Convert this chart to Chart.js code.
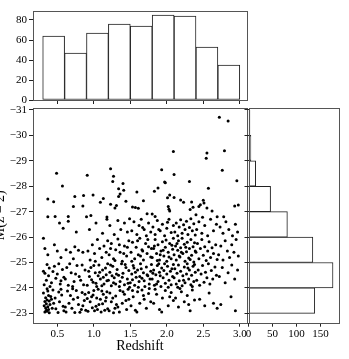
<!DOCTYPE html>
<html lang="en">
<head>
    <meta charset="UTF-8">
    <title>Redshift vs M(z = 2)</title>
    <script src="https://cdn.jsdelivr.net/npm/chart.js"></script>
    <style>
        body { margin: 0; background: #fff; overflow: hidden; }
        canvas { position: absolute; top: 0; }
    </style>
</head>
<body>

<canvas id="top" width="349" height="359" style="left:0"></canvas>
<canvas id="main" width="357" height="359" style="left:-8px"></canvas>
<canvas id="side" width="349" height="359" style="left:0"></canvas>

<script>
    // histogram of redshift (bins of 0.3 from 0.3 to 3.0)
    const zBinCenters = [0.45, 0.75, 1.05, 1.35, 1.65, 1.95, 2.25, 2.55, 2.85];
    const zCounts = [64, 47, 67, 76, 74, 85, 84, 53, 35];

    // histogram of M(z=2) (bins of 1 mag)
    const magBinCenters = [-23.5, -24.5, -25.5, -26.5, -27.5, -28.5, -29.5, -30.5];
    const magCounts = [138, 176, 134, 81, 46, 15, 5, 3];

    const zTicks = [0.5, 1.0, 1.5, 2.0, 2.5, 3.0];
    const magTicks = [-31, -30, -29, -28, -27, -26, -25, -24, -23];
    const topCountTicks = [0, 20, 40, 60, 80];
    const sideCountTicks = [0, 50, 100, 150];

    // [redshift, M(z=2)]
    const quasars = [
        // bright, sparse part
        [0.49,-28.51],[0.91,-28.43],[1.23,-28.69],[1.27,-28.39],[1.26,-28.19],[1.40,-28.11],[0.57,-28.01],[1.34,-27.90],
        [1.41,-27.84],[1.59,-27.77],[1.36,-27.69],[1.34,-27.60],[0.37,-27.50],[0.45,-27.39],[0.74,-27.60],[0.86,-27.64],
        [0.99,-27.65],[1.13,-27.52],[1.09,-27.37],[1.44,-27.41],[0.72,-27.20],[0.85,-27.22],[1.23,-27.29],[1.31,-27.24],
        [1.29,-27.14],[1.53,-27.18],[1.57,-27.16],[1.61,-27.13],[0.37,-26.80],[0.47,-26.81],[0.65,-26.81],[0.90,-26.80],
        [0.96,-26.85],[1.18,-26.79],
        [2.72,-30.71],[2.84,-30.57],[2.09,-29.37],[2.55,-29.31],[2.54,-29.10],[2.79,-29.40],[1.93,-28.65],[2.10,-28.46],
        [2.76,-28.63],[2.31,-28.19],[2.96,-28.22],[2.57,-27.92],[1.97,-28.17],[1.98,-28.14],[1.88,-27.93],[1.83,-27.80],
        [1.68,-27.43],[2.01,-27.55],[2.04,-27.65],[2.10,-27.56],[2.19,-27.46],[2.23,-27.37],[2.34,-27.38],[2.50,-27.45],
        [2.51,-27.34],[2.46,-27.27],[2.44,-27.20],[2.36,-27.17],[2.32,-27.08],[2.55,-27.14],[2.62,-27.03],[2.93,-27.22],
        [2.98,-27.26],[2.02,-27.20],[2.03,-27.09],[2.04,-27.03],[1.73,-26.92],[1.80,-26.91],[1.84,-26.81],[2.40,-26.88],
        [2.49,-26.78],[2.69,-26.80],[2.78,-26.80],
        // 0.3 - 0.6
        [0.33,-23.05],[0.35,-23.12],[0.34,-23.21],[0.36,-23.08],[0.38,-23.15],[0.32,-23.30],[0.37,-23.26],[0.35,-23.38],
        [0.39,-23.02],[0.33,-23.46],[0.36,-23.52],[0.40,-23.35],[0.34,-23.61],[0.38,-23.70],[0.42,-23.55],[0.45,-23.40],
        [0.31,-23.80],[0.37,-23.88],[0.41,-23.66],[0.44,-23.92],[0.48,-23.18],[0.51,-23.03],[0.53,-23.45],[0.56,-23.72],
        [0.58,-23.28],[0.47,-23.60],[0.55,-23.95],[0.59,-23.10],[0.43,-23.20],[0.39,-23.48],[0.36,-23.97],[0.52,-23.84],
        [0.32,-24.12],[0.35,-24.30],[0.31,-24.65],[0.38,-24.48],[0.42,-24.20],[0.46,-24.85],[0.50,-24.55],[0.54,-24.15],
        [0.57,-24.72],[0.36,-24.92],[0.40,-24.05],[0.48,-24.38],[0.52,-24.95],[0.59,-24.42],[0.33,-24.58],[0.44,-24.64],
        [0.55,-24.28],[0.39,-24.78],
        [0.31,-25.95],[0.33,-25.55],[0.37,-25.30],[0.50,-25.45],[0.55,-25.20],[0.46,-25.70],[0.58,-26.35],[0.53,-26.55],
        // 0.6 - 0.9
        [0.62,-23.05],[0.66,-23.40],[0.70,-23.20],[0.74,-23.03],[0.78,-23.62],[0.81,-23.04],[0.85,-23.30],[0.88,-23.75],
        [0.64,-23.88],[0.72,-23.55],[0.76,-23.90],[0.83,-23.15],[0.87,-23.50],[0.68,-23.70],[0.61,-23.25],[0.79,-23.35],
        [0.84,-23.82],[0.71,-23.97],[0.89,-23.12],
        [0.61,-24.35],[0.65,-24.10],[0.69,-24.60],[0.73,-24.25],[0.77,-24.88],[0.80,-24.45],[0.86,-24.12],[0.63,-24.80],
        [0.75,-24.55],[0.82,-24.30],[0.88,-24.70],[0.67,-24.95],[0.71,-24.05],[0.84,-24.90],
        [0.62,-25.50],[0.68,-25.40],[0.74,-25.62],[0.79,-25.48],[0.85,-25.40],[0.72,-25.15],[0.65,-26.62],[0.76,-26.20],
        // 0.9 - 1.2
        [0.92,-23.08],[0.95,-23.45],[0.98,-23.22],[1.01,-23.10],[1.04,-23.60],[1.07,-23.35],[1.10,-23.05],[1.13,-23.75],
        [1.16,-23.48],[1.19,-23.18],[0.93,-23.82],[0.97,-23.65],[1.00,-23.90],[1.03,-23.28],[1.06,-23.95],[1.09,-23.55],
        [1.12,-23.38],[1.15,-23.12],[1.18,-23.85],[0.91,-23.58],[0.99,-23.72],[1.05,-23.15],[1.11,-23.88],[1.17,-23.62],
        [0.91,-24.10],[0.94,-24.45],[0.96,-24.80],[0.99,-24.22],[1.02,-24.60],[1.04,-24.05],[1.07,-24.90],[1.09,-24.35],
        [1.12,-24.70],[1.14,-24.15],[1.17,-24.52],[1.19,-24.95],[0.93,-24.65],[0.97,-24.32],[1.00,-24.88],[1.03,-24.18],
        [1.06,-24.48],[1.08,-24.62],[1.11,-24.08],[1.13,-24.42],[1.16,-24.78],[1.18,-24.28],
        [0.92,-25.45],[0.95,-25.10],[0.98,-25.70],[1.01,-25.35],[1.05,-25.90],[1.08,-25.55],[1.11,-25.20],[1.14,-25.65],
        [1.17,-25.40],[1.02,-25.05],[1.19,-25.85],
        [0.94,-26.30],[1.03,-26.55],[1.12,-26.15],[1.18,-26.70],
        // 1.2 - 1.5
        [1.21,-23.10],[1.24,-23.45],[1.27,-23.02],[1.30,-23.68],[1.33,-23.25],[1.36,-23.90],[1.39,-23.40],[1.42,-23.75],
        [1.45,-23.15],[1.48,-23.55],[1.22,-23.80],[1.26,-23.60],[1.31,-23.35],[1.35,-23.05],[1.40,-23.85],[1.44,-23.50],
        [1.47,-23.95],[1.29,-23.20],
        [1.20,-24.30],[1.22,-24.62],[1.24,-24.08],[1.26,-24.85],[1.28,-24.40],[1.30,-24.15],[1.32,-24.72],[1.34,-24.50],
        [1.36,-24.25],[1.38,-24.95],[1.40,-24.58],[1.42,-24.12],[1.44,-24.80],[1.46,-24.35],[1.48,-24.68],[1.49,-24.02],
        [1.23,-24.90],[1.27,-24.20],[1.31,-24.55],[1.35,-24.05],[1.39,-24.42],[1.43,-24.92],[1.47,-24.18],[1.25,-24.48],
        [1.21,-25.30],[1.24,-25.75],[1.27,-25.15],[1.30,-25.50],[1.33,-25.92],[1.36,-25.40],[1.39,-25.05],[1.42,-25.65],
        [1.45,-25.25],[1.48,-25.85],[1.23,-25.55],[1.29,-25.08],[1.35,-25.70],[1.41,-25.35],[1.46,-25.60],
        [1.22,-26.45],[1.28,-26.10],[1.33,-26.65],[1.37,-26.30],[1.42,-26.55],[1.46,-26.20],[1.49,-26.72],
        // 1.5 - 1.8
        [1.51,-23.30],[1.54,-23.65],[1.57,-23.12],[1.60,-23.85],[1.63,-23.40],[1.66,-23.92],[1.69,-23.55],[1.72,-23.20],
        [1.75,-23.78],[1.78,-23.45],[1.53,-23.90],[1.59,-23.05],[1.68,-23.70],[1.76,-23.98],
        [1.50,-24.20],[1.52,-24.55],[1.54,-24.88],[1.56,-24.10],[1.58,-24.42],[1.60,-24.70],[1.62,-24.25],[1.64,-24.95],
        [1.66,-24.38],[1.68,-24.60],[1.70,-24.05],[1.72,-24.82],[1.74,-24.48],[1.76,-24.15],[1.78,-24.65],[1.79,-24.92],
        [1.53,-24.32],[1.57,-24.62],[1.61,-24.02],[1.65,-24.75],[1.69,-24.28],[1.73,-24.52],[1.77,-24.35],[1.55,-24.78],
        [1.63,-24.45],
        [1.51,-25.40],[1.53,-25.80],[1.56,-25.15],[1.58,-25.60],[1.61,-25.30],[1.63,-25.95],[1.66,-25.50],[1.68,-25.10],
        [1.71,-25.75],[1.73,-25.35],[1.75,-25.62],[1.78,-25.22],[1.52,-25.05],[1.60,-25.85],[1.67,-25.45],[1.74,-25.90],
        [1.79,-25.55],[1.64,-25.25],
        [1.52,-26.25],[1.55,-26.60],[1.59,-26.10],[1.62,-26.45],[1.65,-26.70],[1.69,-26.30],[1.72,-26.05],[1.75,-26.55],
        [1.78,-26.20],[1.67,-26.38],
        // 1.8 - 2.1
        [1.82,-23.40],[1.86,-23.75],[1.90,-23.15],[1.94,-23.60],[1.98,-23.90],[2.02,-23.30],[2.06,-23.82],[2.09,-23.50],
        [1.84,-23.95],[1.93,-23.05],[2.04,-23.65],
        [1.80,-24.35],[1.82,-24.70],[1.83,-24.10],[1.85,-24.52],[1.87,-24.88],[1.88,-24.25],[1.90,-24.62],[1.92,-24.05],
        [1.93,-24.78],[1.95,-24.40],[1.97,-24.95],[1.98,-24.18],[2.00,-24.55],[2.01,-24.85],[2.03,-24.30],[2.05,-24.65],
        [2.06,-24.12],[2.08,-24.45],[2.09,-24.92],[1.81,-24.58],[1.86,-24.15],[1.91,-24.48],[1.96,-24.68],[2.02,-24.02],
        [2.07,-24.75],[1.89,-24.95],
        [1.80,-25.20],[1.82,-25.55],[1.84,-25.90],[1.86,-25.35],[1.88,-25.70],[1.90,-25.10],[1.92,-25.45],[1.94,-25.82],
        [1.96,-25.25],[1.98,-25.60],[2.00,-25.05],[2.02,-25.40],[2.04,-25.75],[2.06,-25.15],[2.08,-25.52],[2.09,-25.95],
        [1.83,-25.65],[1.87,-25.08],[1.91,-25.30],[1.95,-25.48],[1.99,-25.88],[2.03,-25.22],[2.07,-25.68],
        [1.81,-26.40],[1.84,-26.10],[1.87,-26.65],[1.91,-26.25],[1.94,-26.50],[1.97,-26.05],[2.00,-26.35],[2.03,-26.70],
        [2.06,-26.18],[2.09,-26.45],[1.89,-26.30],[2.01,-26.58],
        // 2.1 - 2.4
        [2.12,-23.60],[2.16,-23.25],[2.20,-23.85],[2.24,-23.45],[2.28,-23.70],[2.32,-23.10],[2.35,-23.92],[2.38,-23.52],
        [2.18,-23.98],[2.30,-23.35],
        [2.10,-24.40],[2.11,-24.75],[2.13,-24.15],[2.14,-24.58],[2.16,-24.90],[2.17,-24.28],[2.19,-24.65],[2.21,-24.08],
        [2.22,-24.48],[2.24,-24.82],[2.25,-24.20],[2.27,-24.55],[2.28,-24.95],[2.30,-24.35],[2.31,-24.70],[2.33,-24.12],
        [2.34,-24.50],[2.36,-24.85],[2.37,-24.25],[2.39,-24.62],[2.15,-24.02],[2.23,-24.30],[2.29,-24.78],[2.35,-24.05],
        [2.38,-24.92],
        [2.10,-25.30],[2.12,-25.65],[2.13,-25.10],[2.15,-25.48],[2.16,-25.85],[2.18,-25.22],[2.19,-25.58],[2.21,-25.95],
        [2.22,-25.35],[2.24,-25.72],[2.25,-25.05],[2.27,-25.42],[2.28,-25.80],[2.30,-25.18],[2.31,-25.55],[2.33,-25.90],
        [2.34,-25.28],[2.36,-25.62],[2.37,-25.02],[2.39,-25.45],[2.14,-25.75],[2.20,-25.40],[2.26,-25.60],[2.32,-25.12],
        [2.38,-25.78],[2.17,-25.25],
        [2.11,-26.20],[2.13,-26.55],[2.15,-26.05],[2.17,-26.40],[2.19,-26.68],[2.21,-26.15],[2.23,-26.48],[2.25,-26.30],
        [2.27,-26.62],[2.29,-26.10],[2.31,-26.38],[2.33,-26.72],[2.35,-26.25],[2.37,-26.52],[2.39,-26.08],
        // 2.4 - 2.7
        [2.45,-23.55],[2.52,-23.30],[2.58,-23.80],[2.64,-23.40],[2.69,-23.20],
        [2.41,-24.30],[2.43,-24.70],[2.45,-24.10],[2.47,-24.55],[2.49,-24.88],[2.51,-24.22],[2.53,-24.62],[2.55,-24.40],
        [2.57,-24.95],[2.59,-24.15],[2.61,-24.68],[2.63,-24.35],[2.66,-24.82],[2.68,-24.50],
        [2.40,-25.40],[2.42,-25.75],[2.44,-25.15],[2.46,-25.55],[2.48,-25.90],[2.50,-25.28],[2.52,-25.62],[2.54,-25.08],
        [2.56,-25.45],[2.58,-25.82],[2.60,-25.20],[2.62,-25.58],[2.64,-25.35],[2.67,-25.70],[2.69,-25.12],
        [2.41,-26.30],[2.44,-26.60],[2.48,-26.15],[2.52,-26.45],[2.56,-26.05],[2.60,-26.70],[2.64,-26.25],[2.68,-26.50],
        // 2.7 - 3.0
        [2.74,-23.35],[2.88,-23.65],[2.94,-23.10],
        [2.72,-24.45],[2.76,-24.80],[2.80,-24.20],[2.84,-24.60],[2.89,-24.90],[2.93,-24.35],[2.97,-24.70],
        [2.71,-25.30],[2.74,-25.65],[2.77,-25.10],[2.80,-25.85],[2.83,-25.45],[2.86,-25.20],[2.89,-25.70],[2.92,-25.40],
        [2.95,-25.90],[2.98,-25.25],
        [2.73,-26.40],[2.77,-26.15],[2.81,-26.60],[2.85,-26.30],[2.90,-26.05],[2.94,-26.50],[2.97,-26.20]
    ];

    Chart.defaults.font.family = "'Liberation Serif', 'DejaVu Serif', serif";
    Chart.defaults.font.size = 11;
    Chart.defaults.color = '#000';

    const INK = '#222';
    const minus = v => (v < 0 ? '\u2212' + Math.abs(v) : String(v));
    const setTicks = list => axis => { axis.ticks = list.map(v => ({ value: v })); };

    // matplotlib style box round the plot area
    const frame = {
        id: 'frame',
        afterDraw(chart) {
            const { ctx, chartArea: a } = chart;
            ctx.save();
            ctx.strokeStyle = '#555';
            ctx.lineWidth = 1;
            ctx.strokeRect(Math.round(a.left) + 0.5, Math.round(a.top) + 0.5,
                Math.round(a.right - a.left), Math.round(a.bottom - a.top));
            ctx.restore();
        }
    };

    const tickGrid = { drawOnChartArea: false, drawTicks: true, tickLength: 4, tickColor: INK, offset: false };
    const noBorder = { display: false };
    const base = {
        responsive: false,
        animation: false,
        devicePixelRatio: 1,
        plugins: { legend: { display: false }, tooltip: { enabled: false } }
    };

    // top: redshift histogram
    new Chart(document.getElementById('top'), {
        type: 'bar',
        data: {
            datasets: [{
                data: zBinCenters.map((z, i) => ({ x: z, y: zCounts[i] })),
                backgroundColor: '#fff',
                borderColor: INK,
                borderWidth: 1,
                borderSkipped: false,
                barPercentage: 1,
                categoryPercentage: 1
            }]
        },
        options: {
            ...base,
            layout: { padding: { left: 0, top: 10.7, right: 102, bottom: 255 } },
            scales: {
                x: {
                    type: 'linear', min: 0.167, max: 3.099, offset: false,
                    afterBuildTicks: setTicks(zTicks),
                    afterFit: s => { s.height = 4; },
                    grid: tickGrid, border: noBorder,
                    ticks: { display: false }
                },
                y: {
                    min: 0, max: 89.3,
                    afterBuildTicks: setTicks(topCountTicks),
                    afterFit: s => { s.width = 33; },
                    grid: tickGrid, border: noBorder,
                    ticks: { padding: 2 }
                }
            }
        },
        plugins: [frame]
    });

    // main scatter
    new Chart(document.getElementById('main'), {
        type: 'scatter',
        data: {
            datasets: [{
                data: quasars.map(([z, m]) => ({ x: z, y: m })),
                pointRadius: 1.5,
                pointBorderWidth: 0,
                backgroundColor: '#000'
            }]
        },
        options: {
            ...base,
            layout: { padding: { left: 0, top: 107.7, right: 102, bottom: 4.6 } },
            scales: {
                x: {
                    type: 'linear', min: 0.167, max: 3.099,
                    afterBuildTicks: setTicks(zTicks),
                    afterFit: s => { s.height = 31.7; },
                    grid: tickGrid, border: noBorder,
                    ticks: { padding: 1, maxRotation: 0, autoSkip: false, callback: v => v.toFixed(1) },
                    title: { display: true, text: 'Redshift', font: { size: 14 }, padding: 0 }
                },
                y: {
                    type: 'linear', min: -31.09, max: -22.63, reverse: true,
                    afterBuildTicks: setTicks(magTicks),
                    afterFit: s => { s.width = 41; },
                    grid: tickGrid, border: noBorder,
                    ticks: { padding: 2, autoSkip: false, callback: minus },
                    title: { display: true, text: 'M(z = 2)', font: { size: 14 }, padding: 0 }
                }
            }
        },
        plugins: [frame]
    });

    // right: M(z=2) histogram
    new Chart(document.getElementById('side'), {
        type: 'bar',
        data: {
            datasets: [{
                data: magBinCenters.map((m, i) => ({ x: magCounts[i], y: m })),
                backgroundColor: '#fff',
                borderColor: INK,
                borderWidth: 1,
                borderSkipped: false,
                barPercentage: 1,
                categoryPercentage: 1
            }]
        },
        options: {
            ...base,
            indexAxis: 'y',
            layout: { padding: { left: 244.5, top: 107.7, right: 10.7, bottom: 16.3 } },
            scales: {
                x: {
                    type: 'linear', min: 0, max: 187,
                    afterBuildTicks: setTicks(sideCountTicks),
                    afterFit: s => { s.height = 20; },
                    grid: tickGrid, border: noBorder,
                    ticks: { padding: 1, maxRotation: 0, autoSkip: false }
                },
                y: {
                    type: 'linear', min: -31.09, max: -22.63, reverse: true, offset: false,
                    afterBuildTicks: setTicks(magTicks),
                    afterFit: s => { s.width = 4; },
                    grid: tickGrid, border: noBorder,
                    ticks: { display: false }
                }
            }
        },
        plugins: [frame]
    });
</script>
</body>
</html>
